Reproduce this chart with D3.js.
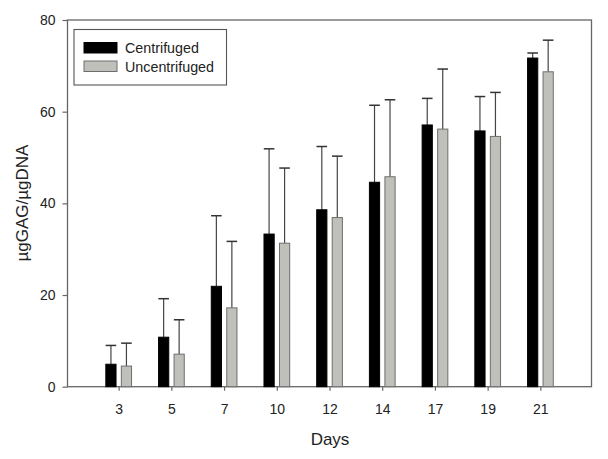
<!DOCTYPE html>
<html><head><meta charset="utf-8">
<script src="https://cdn.jsdelivr.net/npm/d3@7"></script>
<style>body{margin:0;background:#fff}svg{display:block}text{font-family:"Liberation Sans",Arial,sans-serif;fill:#222}</style>
</head><body><svg width="608" height="459"></svg>
<script>
const days = ["3","5","7","10","12","14","17","19","21"];
const centrifuged = [4.9,10.8,21.9,33.3,38.6,44.6,57.1,55.8,71.7];
const centrifugedErr = [4.1,8.4,15.4,18.6,13.8,16.8,5.8,7.5,1.1];
const uncentrifuged = [4.5,7.1,17.2,31.3,36.9,45.8,56.2,54.6,68.7];
const uncentrifugedErr = [5.0,7.5,14.5,16.4,13.4,16.8,13.1,9.6,6.9];
const yTicks = [0,20,40,60,80];
const seriesNames = ["Centrifuged","Uncentrifuged"];

const svg = d3.select("svg");
const L=67.5, R=591.5, T=20, B=386.7;
const x = d3.scalePoint().domain(days).range([L,R]).padding(0.97);
const y = d3.scaleLinear().domain([0,80]).range([B,T]);
const fills = ["#000000","#c0c0bb"];
const strokes = ["#000000","#6e6e6e"];
const offs = [-12.8, 2.7];
const bw = 10.2;
const axisCol = "#666";

// frame
svg.append("rect").attr("x",L).attr("y",T).attr("width",R-L).attr("height",B-T)
  .attr("fill","none").attr("stroke",axisCol).attr("stroke-width",1.3);

const series = [
  {vals:centrifuged, errs:centrifugedErr},
  {vals:uncentrifuged, errs:uncentrifugedErr}
];
series.forEach((s,si)=>{
  const g = svg.append("g");
  days.forEach((d,i)=>{
    const x0 = x(d)+offs[si];
    const v = s.vals[i], e = s.errs[i];
    const cx = x0+bw/2;
    g.append("line").attr("x1",cx).attr("x2",cx).attr("y1",y(v)).attr("y2",y(v+e))
      .attr("stroke","#444").attr("stroke-width",1.2);
    g.append("line").attr("x1",cx-5.3).attr("x2",cx+5.3).attr("y1",y(v+e)).attr("y2",y(v+e))
      .attr("stroke","#333").attr("stroke-width",1.5);
    g.append("rect").attr("x",x0).attr("y",y(v)).attr("width",bw).attr("height",B-y(v))
      .attr("fill",fills[si]).attr("stroke",strokes[si]).attr("stroke-width",1);
  });
});

// y axis
const ya = svg.append("g").attr("transform",`translate(${L},0)`)
  .call(d3.axisLeft(y).tickValues(yTicks).tickSize(5).tickPadding(7));
ya.select(".domain").remove();
ya.selectAll("line").attr("stroke",axisCol).attr("stroke-width",1.2);
ya.selectAll("text").attr("font-size",14).style("font-family","Liberation Sans, Arial, sans-serif").attr("fill","#222");

// x axis
const xa = svg.append("g").attr("transform",`translate(0,${B})`)
  .call(d3.axisBottom(x).tickSize(4).tickPadding(13));
xa.select(".domain").remove();
xa.selectAll("line").attr("stroke",axisCol).attr("stroke-width",1.2);
xa.selectAll("text").attr("font-size",14).style("font-family","Liberation Sans, Arial, sans-serif").attr("fill","#222");

// titles
svg.append("text").attr("x",330).attr("y",445).attr("text-anchor","middle")
  .attr("font-size",17).text("Days");
svg.append("text").attr("transform","translate(28,203) rotate(-90)").attr("text-anchor","middle")
  .attr("font-size",17).text("µgGAG/µgDNA");

// legend
const lg = svg.append("g");
lg.append("rect").attr("x",74).attr("y",29.5).attr("width",152.5).attr("height",55.5)
  .attr("fill","#fff").attr("stroke","#555").attr("stroke-width",1.1);
seriesNames.forEach((n,i)=>{
  const yy = [42.5,61][i];
  lg.append("rect").attr("x",84).attr("y",yy).attr("width",33).attr("height",10.5)
    .attr("fill",fills[i]).attr("stroke",strokes[i]).attr("stroke-width",1);
  lg.append("text").attr("x",125).attr("y",yy+10.5).attr("font-size",14.3).text(n);
});
</script></body></html>
